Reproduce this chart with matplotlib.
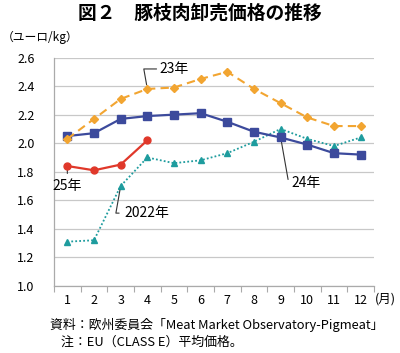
import matplotlib
matplotlib.use("Agg")
import matplotlib.pyplot as plt
from matplotlib.ticker import FixedLocator, NullFormatter

plt.rcParams['font.family'] = ['Noto Sans CJK JP', 'DejaVu Sans']

months = [1, 2, 3, 4, 5, 6, 7, 8, 9, 10, 11, 12]
y2023 = [2.03, 2.17, 2.31, 2.38, 2.39, 2.45, 2.50, 2.38, 2.28, 2.18, 2.12, 2.12]
y2024 = [2.05, 2.07, 2.17, 2.19, 2.20, 2.21, 2.15, 2.08, 2.04, 1.99, 1.93, 1.92]
y2025 = [1.84, 1.81, 1.85, 2.02]
y2022 = [1.31, 1.32, 1.70, 1.90, 1.86, 1.88, 1.93, 2.01, 2.10, 2.03, 1.98, 2.04]
yticks = [1.0, 1.2, 1.4, 1.6, 1.8, 2.0, 2.2, 2.4, 2.6]

fig = plt.figure(figsize=(4.0, 3.53), dpi=100)
ax = fig.add_axes([0.135, 0.19, 0.80, 0.647])

c_or = '#F2A531'
c_bl = '#3C4A9C'
c_rd = '#E0382A'
c_tl = '#1E9C9E'

ax.plot(months, y2022, color=c_tl, lw=1.3, ls=(0, (1, 1.2)), marker='^', ms=4.5, zorder=3)
ax.plot(months, y2024, color=c_bl, lw=1.6, marker='s', ms=6, zorder=4)
ax.plot(months, y2023, color=c_or, lw=1.5, ls=(0, (4, 2.5)), marker='D', ms=4, zorder=5)
ax.plot(months[:len(y2025)], y2025, color=c_rd, lw=1.6, marker='o', ms=5, zorder=6)

ax.set_xlim(0.5, 12.5)
ax.set_ylim(1.0, 2.6)
ax.set_yticks(yticks)
ax.set_yticklabels([f"{v:.1f}" for v in yticks], fontsize=9)
ax.set_xticks(months)
ax.set_xticklabels([str(m) for m in months], fontsize=9)
ax.xaxis.set_minor_locator(FixedLocator([m + 0.5 for m in range(0, 13)]))
ax.xaxis.set_minor_formatter(NullFormatter())
ax.tick_params(axis='x', which='major', length=0, pad=6)
ax.tick_params(axis='x', which='minor', length=4, color='#AAAAAA', width=0.8)
ax.tick_params(axis='y', length=0, pad=14)
ax.grid(axis='y', color='#C8C8C8', lw=0.9)
ax.set_axisbelow(True)
for s in ['top', 'right']:
    ax.spines[s].set_visible(False)
for s in ['left', 'bottom']:
    ax.spines[s].set_color('#AAAAAA')
    ax.spines[s].set_linewidth(0.9)

lk = dict(color='#333333', lw=0.8)
# 23年
ax.annotate('23年', xy=(months[3], y2023[3]), xytext=(4.45, 2.52), fontsize=10,
            ha='left', va='center', arrowprops=dict(arrowstyle='-', **lk, shrinkA=0, shrinkB=3,
            connectionstyle='angle,angleA=0,angleB=-80,rad=0'))
# 25年
ax.annotate('25年', xy=(months[0], y2025[0]), xytext=(0.45, 1.70), fontsize=10,
            ha='left', va='center', arrowprops=dict(arrowstyle='-', **lk, shrinkA=2, shrinkB=3))
# 2022年
ax.annotate('2022年', xy=(months[2], y2022[2]), xytext=(3.15, 1.51), fontsize=10,
            ha='left', va='center', arrowprops=dict(arrowstyle='-', **lk, shrinkA=2, shrinkB=3,
            connectionstyle='angle,angleA=0,angleB=80,rad=0'))
# 24年
ax.annotate('24年', xy=(months[8], y2024[8]), xytext=(9.4, 1.72), fontsize=10,
            ha='left', va='center', arrowprops=dict(arrowstyle='-', **lk, shrinkA=2, shrinkB=3,
            connectionstyle='angle,angleA=0,angleB=100,rad=0'))

fig.text(0.5, 0.962, '図２　豚枝肉卸売価格の推移', ha='center', va='center', fontsize=13.5, fontweight='bold')
fig.text(0.005, 0.893, '（ユーロ/kg）', ha='left', va='center', fontsize=8.5)
fig.text(0.937, 0.152, '(月)', ha='left', va='center', fontsize=9)
fig.text(0.125, 0.078, '資料：欧州委員会「Meat Market Observatory-Pigmeat」', ha='left', va='center', fontsize=9.3)
fig.text(0.153, 0.030, '注：EU（CLASS E）平均価格。', ha='left', va='center', fontsize=9.3)

fig.savefig('out.png', dpi=100)
